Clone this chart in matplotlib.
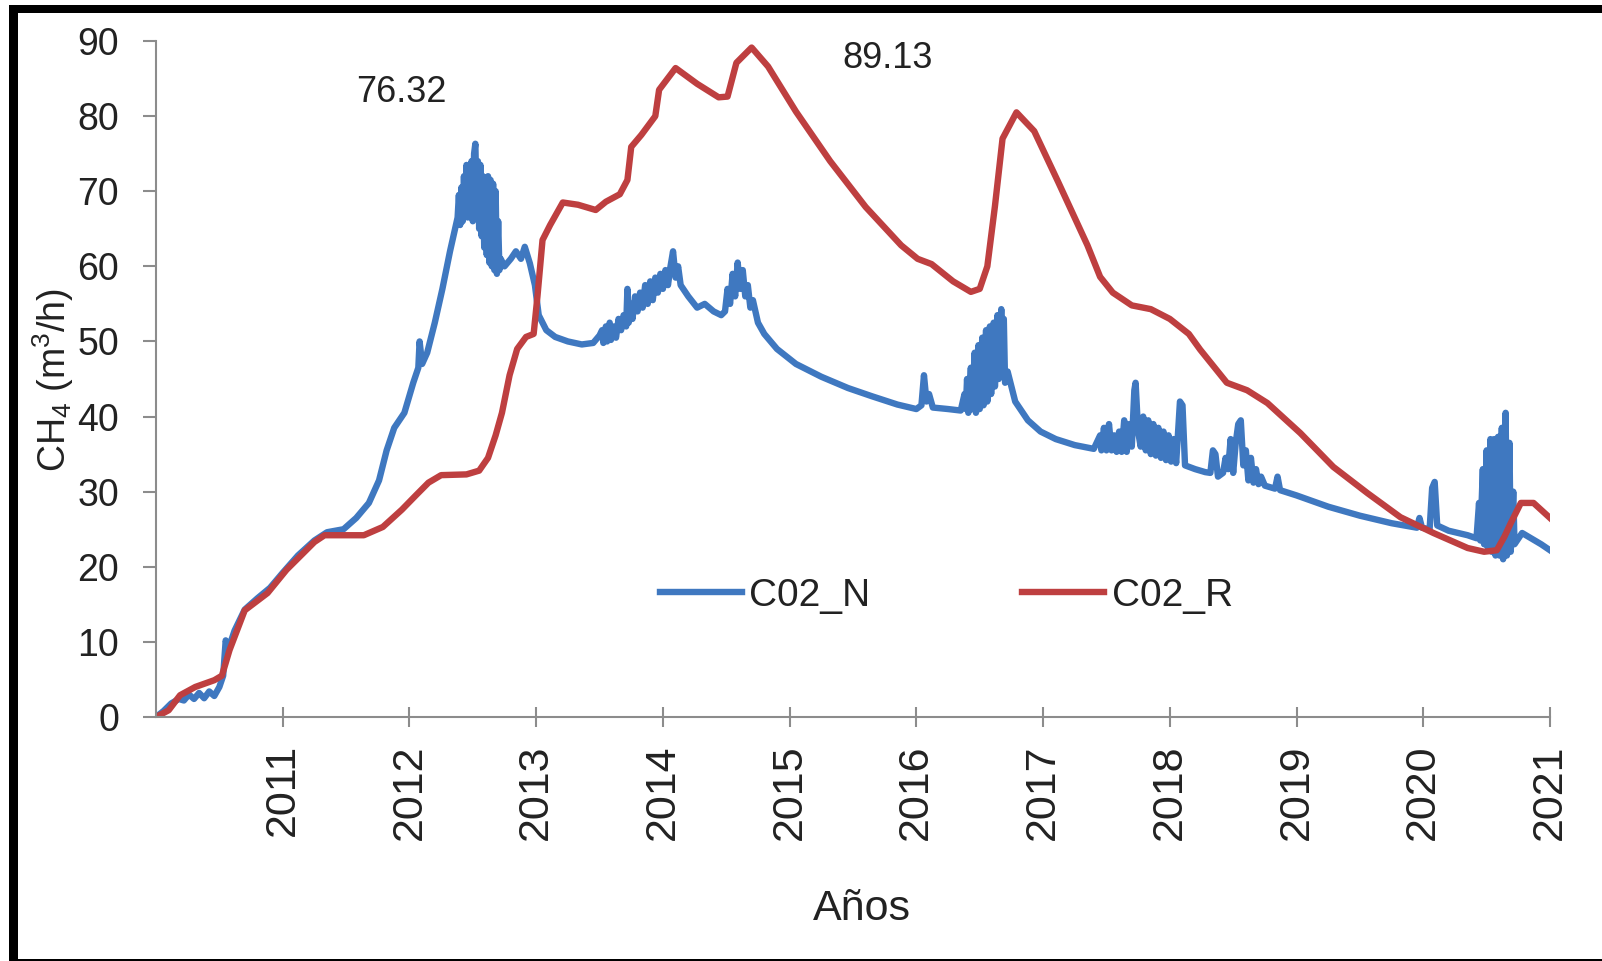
import matplotlib
matplotlib.use("Agg")
import matplotlib.pyplot as plt
from matplotlib.patches import Rectangle

plt.rcParams['font.family'] = ['Liberation Sans', 'DejaVu Sans']
plt.rcParams['mathtext.default'] = 'regular'

# C02_R : smooth curve
r_years = [2010.00, 2010.10, 2010.19, 2010.31, 2010.46, 2010.52, 2010.58, 2010.70, 2010.88,
           2011.03, 2011.25, 2011.33, 2011.49, 2011.64, 2011.79, 2011.94, 2012.05, 2012.15,
           2012.25, 2012.45, 2012.55, 2012.62, 2012.68, 2012.73, 2012.79, 2012.85, 2012.92,
           2012.98, 2013.01, 2013.05, 2013.11, 2013.21, 2013.33, 2013.47, 2013.55, 2013.66,
           2013.72, 2013.75, 2013.83, 2013.94, 2013.97, 2014.10, 2014.27, 2014.44, 2014.51,
           2014.58, 2014.70, 2014.83, 2015.05, 2015.32, 2015.60, 2015.88, 2016.01, 2016.12,
           2016.29, 2016.43, 2016.50, 2016.56, 2016.62, 2016.68, 2016.79, 2016.93, 2017.12,
           2017.35, 2017.45, 2017.55, 2017.70, 2017.85, 2018.00, 2018.15, 2018.24, 2018.45,
           2018.61, 2018.77, 2019.03, 2019.29, 2019.56, 2019.82, 2020.08, 2020.35, 2020.48,
           2020.58, 2020.64, 2020.69, 2020.77, 2020.87, 2021.00]
r_vals = [0.0, 0.9, 2.9, 4.0, 4.9, 5.5, 8.9, 14.2, 16.5,
          19.6, 23.3, 24.2, 24.2, 24.2, 25.3, 27.6, 29.5, 31.2,
          32.2, 32.3, 32.8, 34.5, 37.5, 40.5, 45.5, 49.0, 50.6,
          51.0, 56.0, 63.5, 65.5, 68.5, 68.2, 67.5, 68.6, 69.6,
          71.5, 75.9, 77.5, 80.0, 83.5, 86.4, 84.3, 82.5, 82.6,
          87.1, 89.13, 86.6, 80.6, 74.0, 67.9, 62.8, 61.0, 60.3,
          58.0, 56.6, 57.0, 60.0, 68.0, 77.0, 80.5, 78.0, 71.2,
          62.8, 58.6, 56.5, 54.8, 54.3, 53.0, 51.0, 48.9, 44.5,
          43.5, 41.8, 37.8, 33.3, 29.8, 26.6, 24.5, 22.5, 22.0,
          22.2, 24.0, 25.8, 28.5, 28.5, 26.5]

# C02_N : noisy measured curve
n_years = [2010.00, 2010.06, 2010.12, 2010.18, 2010.22, 2010.26, 2010.30, 2010.34, 2010.38,
           2010.42, 2010.46, 2010.50, 2010.53, 2010.55, 2010.57, 2010.62, 2010.70, 2010.80,
           2010.90, 2011.00, 2011.12, 2011.25, 2011.35, 2011.48, 2011.58, 2011.68, 2011.76,
           2011.82, 2011.88, 2011.96, 2012.03, 2012.07, 2012.08, 2012.10, 2012.14, 2012.20,
           2012.26, 2012.32, 2012.36,
           2012.38, 2012.39, 2012.40, 2012.41, 2012.42, 2012.43, 2012.44, 2012.45, 2012.46,
           2012.47, 2012.48, 2012.49, 2012.50, 2012.51, 2012.52, 2012.53, 2012.54, 2012.55,
           2012.56, 2012.57, 2012.58, 2012.59, 2012.60, 2012.61, 2012.62, 2012.63, 2012.64,
           2012.65, 2012.66, 2012.67, 2012.68, 2012.69, 2012.70, 2012.71, 2012.72,
           2012.75, 2012.80, 2012.84, 2012.88, 2012.91, 2012.95, 2012.99, 2013.02, 2013.08,
           2013.15, 2013.25, 2013.36, 2013.45, 2013.50,
           2013.52, 2013.53, 2013.55, 2013.56, 2013.58, 2013.59, 2013.61, 2013.63, 2013.65,
           2013.67, 2013.69, 2013.71, 2013.72, 2013.73, 2013.75, 2013.76, 2013.78, 2013.80,
           2013.82, 2013.84, 2013.86, 2013.88, 2013.90, 2013.92, 2013.94, 2013.96, 2013.98,
           2014.00, 2014.02, 2014.04, 2014.06, 2014.08, 2014.10, 2014.12, 2014.14,
           2014.20, 2014.27, 2014.33, 2014.40, 2014.46, 2014.49,
           2014.51, 2014.53, 2014.55, 2014.57, 2014.59, 2014.61, 2014.63, 2014.65, 2014.67,
           2014.69, 2014.71,
           2014.75, 2014.80, 2014.90, 2015.05, 2015.25, 2015.46, 2015.65, 2015.85, 2016.00,
           2016.04, 2016.06, 2016.08, 2016.10, 2016.13, 2016.25, 2016.35,
           2016.38, 2016.39, 2016.40, 2016.41, 2016.43, 2016.44, 2016.46, 2016.47, 2016.49,
           2016.50, 2016.52, 2016.53, 2016.55, 2016.56, 2016.58, 2016.59, 2016.61, 2016.62,
           2016.64, 2016.65, 2016.67, 2016.68, 2016.69, 2016.70, 2016.72,
           2016.78, 2016.88, 2016.98, 2017.10, 2017.25, 2017.40,
           2017.45, 2017.46, 2017.48, 2017.50, 2017.52, 2017.54, 2017.56, 2017.58, 2017.60,
           2017.62, 2017.64, 2017.66, 2017.68, 2017.70, 2017.72, 2017.73, 2017.75, 2017.77,
           2017.79, 2017.81, 2017.83, 2017.85, 2017.87, 2017.89, 2017.91, 2017.93, 2017.95,
           2017.97, 2017.99, 2018.01, 2018.03, 2018.05, 2018.08, 2018.10, 2018.12,
           2018.20, 2018.28,
           2018.32, 2018.34, 2018.36, 2018.38, 2018.42, 2018.44, 2018.46, 2018.48, 2018.50,
           2018.52, 2018.54, 2018.56, 2018.58, 2018.60, 2018.62, 2018.64, 2018.66, 2018.68,
           2018.70, 2018.72, 2018.75, 2018.83, 2018.85, 2018.87,
           2019.00, 2019.25, 2019.50, 2019.75, 2019.95, 2019.97, 2019.99, 2020.05, 2020.07,
           2020.09, 2020.11, 2020.20, 2020.35, 2020.42,
           2020.44, 2020.45, 2020.47, 2020.48, 2020.50, 2020.51, 2020.53, 2020.54, 2020.56,
           2020.57, 2020.59, 2020.60, 2020.62, 2020.63, 2020.65, 2020.66, 2020.68, 2020.69,
           2020.71, 2020.72,
           2020.78, 2020.85, 2020.93, 2021.00]
n_vals = [0.0, 0.8, 1.8, 2.4, 2.2, 3.0, 2.4, 3.2, 2.5,
          3.4, 2.8, 4.0, 5.5, 10.2, 9.0, 11.5, 14.3, 15.8,
          17.2, 19.2, 21.5, 23.5, 24.6, 25.0, 26.5, 28.5, 31.5,
          35.5, 38.5, 40.5, 44.5, 46.5, 50.0, 47.0, 48.5, 52.5,
          57.0, 62.0, 65.0,
          66.5, 69.5, 65.5, 70.5, 66.0, 72.0, 67.0, 73.5, 66.5,
          72.0, 68.0, 74.0, 66.0, 75.0, 76.32, 68.0, 74.0, 65.0,
          73.5, 64.0, 72.0, 62.5, 71.5, 61.5, 72.0, 60.5, 71.5,
          60.0, 71.0, 59.5, 70.0, 59.0, 66.0, 59.5, 61.0,
          60.0, 61.0, 62.0, 61.0, 62.6, 60.4, 57.5, 53.5, 51.5,
          50.6, 50.0, 49.6, 49.8, 50.8,
          51.5, 49.8, 52.0, 50.0, 52.5, 50.2, 52.0, 50.5, 53.0,
          51.5, 53.5, 52.0, 57.0, 52.5, 55.0, 53.0, 56.0, 54.0,
          56.5, 54.5, 57.5, 55.0, 58.0, 55.5, 58.5, 56.5, 59.0,
          57.0, 59.5, 57.5, 60.0, 62.0, 58.5, 60.0, 57.5,
          56.0, 54.5, 55.0, 54.0, 53.5, 54.0,
          57.0, 55.0, 59.0, 56.0, 60.5, 57.0, 59.5, 56.0, 57.5,
          54.5, 55.5,
          52.5, 51.0, 49.0, 47.0, 45.3, 43.8, 42.7, 41.6, 41.0,
          41.5, 45.5, 42.0, 43.0, 41.2, 41.0, 40.8,
          43.0, 41.0, 45.0, 40.5, 46.5, 41.0, 48.5, 40.5, 49.5,
          41.0, 50.5, 41.5, 51.5, 42.0, 52.0, 43.0, 52.5, 44.0,
          53.5, 45.0, 54.3, 46.0, 53.0, 44.5, 46.0,
          42.0, 39.5, 38.0, 37.0, 36.2, 35.7,
          37.5, 35.5, 38.5, 35.5, 39.0, 35.5, 37.5, 35.3, 38.0,
          35.3, 39.5, 35.3, 39.0, 36.0, 43.5, 44.5, 38.0, 36.0,
          40.0, 35.5, 39.5, 35.0, 39.0, 34.8, 38.5, 34.5, 38.0,
          34.2, 37.5, 34.0, 37.0, 33.8, 42.0, 41.5, 33.5,
          33.0, 32.6,
          32.5, 35.5, 35.0, 32.0, 32.5, 34.5, 33.0, 37.0, 32.5,
          36.5, 39.0, 39.5, 33.5, 35.5, 31.5, 34.5, 31.2, 33.0,
          31.0, 32.0, 30.8, 30.4, 32.0, 30.2,
          29.5, 28.0, 26.8, 25.8, 25.2, 26.5, 25.2, 25.0, 30.5,
          31.3, 25.5, 24.8, 24.2, 23.8,
          28.5, 23.5, 33.0, 23.0, 35.5, 22.5, 37.0, 22.0, 37.0,
          21.5, 37.3, 21.5, 38.5, 21.0, 40.5, 21.5, 36.5, 22.0,
          30.0, 23.0,
          24.5, 23.8, 23.0, 22.2]

year_ticks = list(range(2011, 2022))
y_ticks = list(range(0, 100, 10))

blue = '#3F78C0'
red = '#BE3F40'
grey = '#8C8C8C'
txt = '#222222'

fig = plt.figure(figsize=(16.02, 9.61), dpi=100)
W, H = 1602, 961
ax = fig.add_axes([156 / W, 1 - 717 / H, (1550 - 156) / W, (717 - 41) / H])

ax.plot(n_years, n_vals, color=blue, lw=4.6, label='C02_N', solid_joinstyle='round')
ax.plot(r_years, r_vals, color=red, lw=4.6, label='C02_R', solid_joinstyle='round')

ax.set_xlim(2010, 2021)
ax.set_ylim(0, 90)
ax.set_xticks(year_ticks)
ax.set_xticklabels([str(y) for y in year_ticks], rotation=90, fontsize=31, color=txt)
ax.set_yticks(y_ticks)
ax.set_yticklabels([str(v) for v in y_ticks], fontsize=27, color=txt)

for s in ['top', 'right']:
    ax.spines[s].set_visible(False)
for s in ['left', 'bottom']:
    ax.spines[s].set_color(grey)
    ax.spines[s].set_linewidth(1.5)

ax.tick_params(axis='x', direction='inout', length=15, width=1.5, color=grey, pad=12)
ax.tick_params(axis='y', direction='out', length=9.5, width=1.5, color=grey, pad=17)

# peak values
ax.text(2011.94, 81.9, '76.32', fontsize=26, color=txt, ha='center', va='baseline')
ax.text(2015.77, 86.4, '89.13', fontsize=26, color=txt, ha='center', va='baseline')

fig.text(53 / W, 1 - 380 / H, r'CH$_4$ (m$^3$/h)', rotation=90, fontsize=27,
         color=txt, ha='center', va='center')
fig.text(862 / W, 1 - 920 / H, 'Años', fontsize=31, color=txt, ha='center', va='baseline')

fig.legend(loc='center left', bbox_to_anchor=(660 / W, 1 - 596 / H), ncol=2, frameon=False,
           fontsize=28, handlelength=2.1, handletextpad=0.2, columnspacing=3.9,
           borderpad=0, borderaxespad=0, labelcolor=txt)

# black frame pieces
fig.add_artist(Rectangle((9 / W, 1 - 13 / H), 1 - 9 / W, 8 / H, transform=fig.transFigure,
                         color='black', lw=0))
fig.add_artist(Rectangle((9 / W, 0), 9 / W, 1 - 5 / H, transform=fig.transFigure,
                         color='black', lw=0))
fig.add_artist(Rectangle((9 / W, 0), 1 - 9 / W, 2.5 / H, transform=fig.transFigure,
                         color='black', lw=0))

fig.savefig('out.png', dpi=100)
